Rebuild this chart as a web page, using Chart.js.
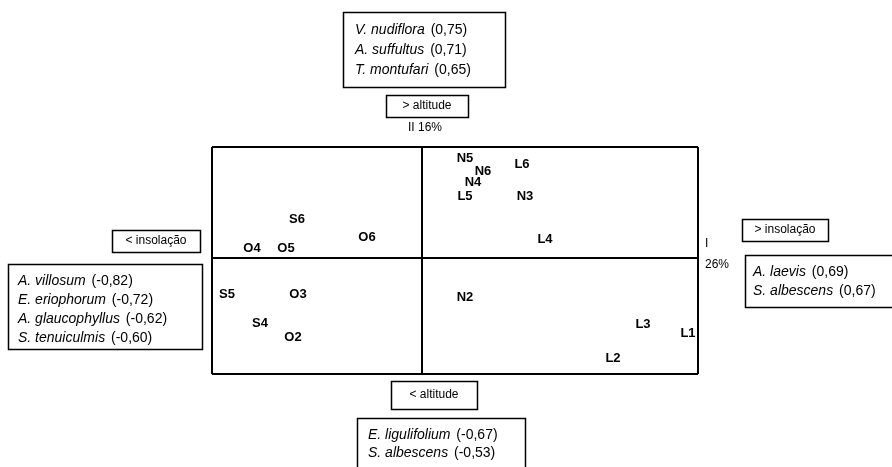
<!DOCTYPE html>
<html>
<head>
<meta charset="utf-8">
<script src="https://cdn.jsdelivr.net/npm/chart.js@4.4.1/dist/chart.umd.min.js"></script>
<style>
  html, body { margin: 0; padding: 0; background: #fff; }
  #wrap { width: 892px; height: 467px; position: relative; }
</style>
</head>
<body>
<div id="wrap"><canvas id="myChart"></canvas></div>
<script>
// site labels and their scores on axis I (x) and axis II (y)
const siteLabels = ['N5', 'N6', 'N4', 'L5', 'L6', 'N3', 'L4',
                    'S6', 'O4', 'O5', 'O6',
                    'S5', 'O3', 'S4', 'O2',
                    'N2', 'L3', 'L1', 'L2'];
const axisI  = [0.43, 0.61, 0.51, 0.43, 1.00, 1.03, 1.23,
                -1.25, -1.70, -1.36, -0.55,
                -1.95, -1.24, -1.62, -1.29,
                0.43, 2.21, 2.66, 1.91];
const axisII = [1.00, 0.87, 0.76, 0.62, 0.94, 0.62, 0.19,
                0.39, 0.10, 0.10, 0.21,
                -0.36, -0.36, -0.65, -0.79,
                -0.39, -0.66, -0.75, -1.00];

const axisLabelX = ['I', '26%'];
const axisLabelY = 'II 16%';

// species correlated with each end of the axes: [name, loading]
const topSpecies = [['V. nudiflora', '(0,75)'], ['A. suffultus', '(0,71)'], ['T. montufari', '(0,65)']];
const bottomSpecies = [['E. ligulifolium', '(-0,67)'], ['S. albescens', '(-0,53)']];
const leftSpecies = [['A. villosum', '(-0,82)'], ['E. eriophorum', '(-0,72)'],
                     ['A. glaucophyllus', '(-0,62)'], ['S. tenuiculmis', '(-0,60)']];
const rightSpecies = [['A. laevis', '(0,69)'], ['S. albescens', '(0,67)']];
const gradientLabels = ['> altitude', '< altitude', '< insolação', '> insolação'];

const FONT = '"Liberation Sans", Arial, sans-serif';

function box(ctx, x, y, w, h) {
    ctx.strokeRect(x + 0.5, y + 0.5, w, h);
}

function speciesBox(ctx, list, x, y, w, h, textX, firstY, step) {
    box(ctx, x, y, w, h);
    list.forEach(([name, val], i) => {
        const ty = firstY + i * step;
        ctx.font = 'italic 14px ' + FONT;
        ctx.fillText(name, textX, ty);
        const wName = ctx.measureText(name + ' ').width;
        ctx.font = '14px ' + FONT;
        ctx.fillText(val, textX + wName + 2, ty);
    });
}

const annotations = {
    id: 'annotations',
    afterDraw(chart) {
        const ctx = chart.ctx;
        ctx.save();
        ctx.fillStyle = '#000';
        ctx.strokeStyle = '#000';
        ctx.lineWidth = 1.5;
        ctx.textBaseline = 'middle';
        ctx.textAlign = 'left';

        speciesBox(ctx, topSpecies, 343, 12, 162, 75, 355, 30, 20);
        speciesBox(ctx, leftSpecies, 8, 264, 194, 85, 18, 281, 19);
        speciesBox(ctx, rightSpecies, 745, 255, 150, 52, 753, 272, 19);
        speciesBox(ctx, bottomSpecies, 357, 418, 168, 60, 368, 435, 18);

        ctx.textAlign = 'center';
        ctx.font = '12px ' + FONT;
        box(ctx, 386, 95, 82, 22);
        ctx.fillText(gradientLabels[0], 427, 106);
        box(ctx, 391, 381, 86, 28);
        ctx.fillText(gradientLabels[1], 434, 395);
        box(ctx, 112, 230, 88, 22);
        ctx.fillText(gradientLabels[2], 156, 241);
        box(ctx, 742, 219, 86, 22);
        ctx.fillText(gradientLabels[3], 785, 230);

        ctx.fillText(axisLabelY, 425, 128);
        ctx.textAlign = 'left';
        ctx.fillText(axisLabelX[0], 705, 244);
        ctx.fillText(axisLabelX[1], 705, 265);

        // site names at their scores
        const xs = chart.scales.x, ys = chart.scales.y;
        ctx.textAlign = 'center';
        ctx.font = 'bold 13px ' + FONT;
        siteLabels.forEach((lab, i) => {
            ctx.fillText(lab, xs.getPixelForValue(axisI[i]), ys.getPixelForValue(axisII[i]));
        });
        ctx.restore();
    }
};

const gridAt = (axis) => {
    axis.ticks = [{ value: axis.min }, { value: 0 }, { value: axis.max }];
};

new Chart(document.getElementById('myChart').getContext('2d'), {
    type: 'scatter',
    data: {
        datasets: [{
            data: axisI.map((v, i) => ({ x: v, y: axisII[i] })),
            pointRadius: 0,
            pointHoverRadius: 0
        }]
    },
    options: {
        responsive: true,
        maintainAspectRatio: false,
        animation: false,
        layout: { padding: { left: 212, right: 194, top: 147, bottom: 93 } },
        plugins: { legend: { display: false }, tooltip: { enabled: false } },
        scales: {
            x: {
                min: -2.1, max: 2.76,
                afterBuildTicks: gridAt,
                ticks: { display: false },
                grid: { color: '#000', lineWidth: 2, drawTicks: false },
                border: { display: false }
            },
            y: {
                min: -1.16, max: 1.11,
                afterBuildTicks: gridAt,
                ticks: { display: false },
                grid: { color: '#000', lineWidth: 2, drawTicks: false },
                border: { display: false }
            }
        }
    },
    plugins: [annotations]
});
</script>
</body>
</html>
